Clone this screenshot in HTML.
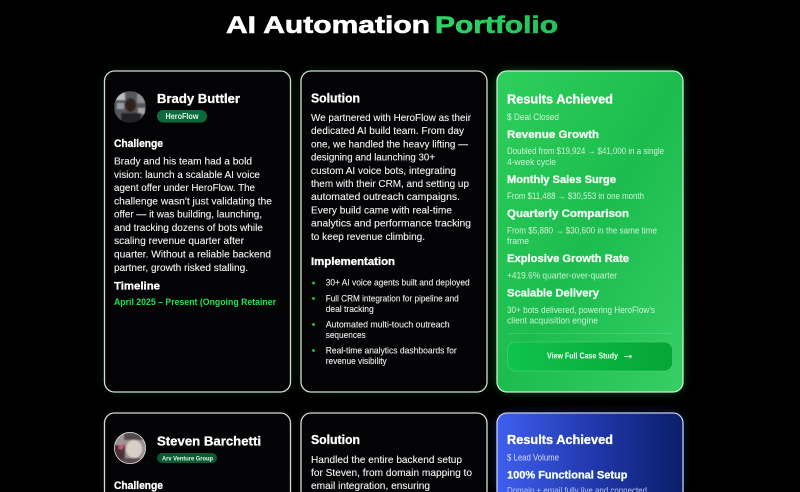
<!DOCTYPE html>
<html><head><meta charset="utf-8"><style>
html,body{margin:0;padding:0;background:#000;width:800px;height:492px;overflow:hidden}
body{position:relative}
svg{display:block}
.root{filter:blur(.3px)}
text{font-family:"Liberation Sans",sans-serif;white-space:pre}
.h{font-weight:700;fill:#fff;stroke:#fff;stroke-width:.3}
.b{font-size:10.5px;fill:#f1f1f1;stroke:#f1f1f1;stroke-width:.12}
.i{font-size:8.9px;fill:#eee;stroke:#eee;stroke-width:.1}
.s{font-size:9px;fill:#cdf3d7}
.g{font-size:11px;font-weight:700;fill:#f4fff6;stroke:#f4fff6;stroke-width:.3}
#cut{position:absolute;left:0;top:486px;width:800px;height:6px;overflow:hidden}
</style></head><body>
<svg class="root" width="800" height="492" viewBox="0 0 800 492" xmlns="http://www.w3.org/2000/svg">
<defs>
<filter id="gl" x="-20%" y="-20%" width="140%" height="140%"><feGaussianBlur stdDeviation="5"/></filter>
<filter id="bl" x="-20%" y="-20%" width="140%" height="140%"><feGaussianBlur stdDeviation=".9"/></filter>
<linearGradient id="gr" x1="0" y1="0" x2="1" y2="1"><stop offset="0" stop-color="#2fcf5c"/><stop offset=".5" stop-color="#1cbc4e"/><stop offset="1" stop-color="#36cf66"/></linearGradient>
<linearGradient id="bt" x1="0" y1="0" x2="1" y2="0"><stop offset="0" stop-color="#10c34a"/><stop offset="1" stop-color="#05a536"/></linearGradient>
<linearGradient id="bu" x1="0" y1="0" x2="1" y2="0"><stop offset="0" stop-color="#3f5ff0"/><stop offset=".55" stop-color="#1f36a8"/><stop offset="1" stop-color="#0a1e68"/></linearGradient>
<linearGradient id="tt" x1="0" y1="0" x2="1" y2="0"><stop offset="0" stop-color="#2fd565"/><stop offset="1" stop-color="#22c25a"/></linearGradient>
<clipPath id="a1"><circle cx="130" cy="107" r="16"/></clipPath>
<clipPath id="a2"><circle cx="130" cy="448" r="16"/></clipPath>
</defs>
<rect width="800" height="492" fill="#000"/>

<!-- glows -->
<rect x="104" y="71" width="186" height="321" rx="11" fill="#0d3a18" opacity=".55" filter="url(#gl)"/>
<rect x="301" y="71" width="186" height="321" rx="11" fill="#0d3a18" opacity=".55" filter="url(#gl)"/>
<rect x="497" y="71" width="186" height="321" rx="11" fill="#1f8a40" opacity=".6" filter="url(#gl)"/>
<rect x="104" y="413" width="186" height="79" rx="11" fill="#1a1a22" opacity=".5" filter="url(#gl)"/>
<rect x="301" y="413" width="186" height="79" rx="11" fill="#1a1a22" opacity=".5" filter="url(#gl)"/>
<rect x="497" y="413" width="186" height="79" rx="11" fill="#22307a" opacity=".6" filter="url(#gl)"/>

<!-- title -->
<text x="226" y="33" font-size="24" font-weight="700" fill="#fff" stroke="#fff" stroke-width=".6" textLength="204" lengthAdjust="spacingAndGlyphs">AI Automation</text>
<text x="435" y="33" font-size="24" font-weight="700" fill="url(#tt)" stroke="url(#tt)" stroke-width=".6" textLength="123" lengthAdjust="spacingAndGlyphs">Portfolio</text>

<!-- cards row 1 -->
<rect x="104.5" y="71" width="186" height="321" rx="10" fill="#030305" stroke="#d5dcd5" stroke-width="1.3"/>
<rect x="301" y="71" width="186" height="321" rx="10" fill="#030305" stroke="#d5dcd5" stroke-width="1.3"/>
<rect x="497" y="71" width="186" height="321" rx="10" fill="url(#gr)" stroke="#c9efd2" stroke-width="1.3"/>
<!-- cards row 2 (cut by the frame) -->
<path d="M104.5 492V423a10 10 0 0 1 10-10H280.5a10 10 0 0 1 10 10V492" fill="#030305" stroke="#d5dcd5" stroke-width="1.3"/>
<path d="M301 492V423a10 10 0 0 1 10-10H477a10 10 0 0 1 10 10V492" fill="#030305" stroke="#d5dcd5" stroke-width="1.3"/>
<path d="M497 492V423a10 10 0 0 1 10-10H673a10 10 0 0 1 10 10V492" fill="url(#bu)" stroke="#c8cff0" stroke-width="1.3"/>

<!-- avatar 1 -->
<g clip-path="url(#a1)"><g filter="url(#bl)">
<rect x="114" y="91" width="32" height="32" fill="#55565a"/>
<rect x="116" y="93" width="9" height="7" fill="#b9bdc0"/>
<rect x="117" y="103" width="7" height="6" fill="#9a9ea2"/>
<rect x="137" y="94" width="8" height="9" fill="#8d8f92"/>
<rect x="138" y="108" width="7" height="6" fill="#a5a7aa"/>
<ellipse cx="130.5" cy="105" rx="5.5" ry="7" fill="#33241f"/>
<rect x="121" y="113" width="20" height="10" fill="#232327"/>
</g></g>
<!-- avatar 2 -->
<g clip-path="url(#a2)"><g filter="url(#bl)">
<rect x="114" y="432" width="32" height="32" fill="#9c9494"/>
<rect x="114" y="445" width="11" height="19" fill="#4a3038"/>
<circle cx="121" cy="447" r="2.5" fill="#d8557f"/>
<ellipse cx="134" cy="449" rx="8" ry="9" fill="#d8cfc6"/>
<rect x="124" y="433" width="20" height="7" fill="#55464a"/>
<rect x="122" y="458" width="22" height="6" fill="#5a4a4e"/>
</g></g>
<circle cx="130" cy="448" r="15.6" fill="none" stroke="#d8d8d8" stroke-width=".8"/>

<!-- card 1 text -->
<text class="h" x="157" y="103" font-size="13" textLength="83" lengthAdjust="spacingAndGlyphs">Brady Buttler</text>
<rect x="157" y="110" width="50" height="12.5" rx="6" fill="#0c6b3a"/>
<text x="165.5" y="119" font-size="8" font-weight="700" textLength="33" lengthAdjust="spacingAndGlyphs" fill="#dff5e6">HeroFlow</text>
<text class="h" x="114" y="147" font-size="11" textLength="49" lengthAdjust="spacingAndGlyphs">Challenge</text>
<text class="b" x="114" y="164.5" textLength="138" lengthAdjust="spacingAndGlyphs">Brady and his team had a bold</text>
<text class="b" x="114" y="177.8" textLength="146" lengthAdjust="spacingAndGlyphs">vision: launch a scalable AI voice</text>
<text class="b" x="114" y="191" textLength="141" lengthAdjust="spacingAndGlyphs">agent offer under HeroFlow. The</text>
<text class="b" x="114" y="204.3" textLength="158" lengthAdjust="spacingAndGlyphs">challenge wasn't just validating the</text>
<text class="b" x="114" y="217.6" textLength="148" lengthAdjust="spacingAndGlyphs">offer — it was building, launching,</text>
<text class="b" x="114" y="230.9" textLength="149" lengthAdjust="spacingAndGlyphs">and tracking dozens of bots while</text>
<text class="b" x="114" y="244.2" textLength="130" lengthAdjust="spacingAndGlyphs">scaling revenue quarter after</text>
<text class="b" x="114" y="257.5" textLength="157" lengthAdjust="spacingAndGlyphs">quarter. Without a reliable backend</text>
<text class="b" x="114" y="270.8" textLength="134" lengthAdjust="spacingAndGlyphs">partner, growth risked stalling.</text>
<text class="h" x="114" y="289.5" font-size="11" textLength="46" lengthAdjust="spacingAndGlyphs">Timeline</text>
<text x="114" y="305" font-size="9" font-weight="700" fill="#22e352" textLength="162" lengthAdjust="spacingAndGlyphs">April 2025 – Present (Ongoing Retainer</text>

<!-- card 2 text -->
<text class="h" x="311" y="102.5" font-size="13" textLength="49" lengthAdjust="spacingAndGlyphs">Solution</text>
<text class="b" x="311" y="121" textLength="160" lengthAdjust="spacingAndGlyphs">We partnered with HeroFlow as their</text>
<text class="b" x="311" y="134.2" textLength="153" lengthAdjust="spacingAndGlyphs">dedicated AI build team. From day</text>
<text class="b" x="311" y="147.4" textLength="157" lengthAdjust="spacingAndGlyphs">one, we handled the heavy lifting —</text>
<text class="b" x="311" y="160.6" textLength="124" lengthAdjust="spacingAndGlyphs">designing and launching 30+</text>
<text class="b" x="311" y="173.8" textLength="145" lengthAdjust="spacingAndGlyphs">custom AI voice bots, integrating</text>
<text class="b" x="311" y="187" textLength="158" lengthAdjust="spacingAndGlyphs">them with their CRM, and setting up</text>
<text class="b" x="311" y="200.2" textLength="149" lengthAdjust="spacingAndGlyphs">automated outreach campaigns.</text>
<text class="b" x="311" y="213.4" textLength="141" lengthAdjust="spacingAndGlyphs">Every build came with real-time</text>
<text class="b" x="311" y="226.6" textLength="160" lengthAdjust="spacingAndGlyphs">analytics and performance tracking</text>
<text class="b" x="311" y="239.8" textLength="114" lengthAdjust="spacingAndGlyphs">to keep revenue climbing.</text>
<text class="h" x="311" y="265" font-size="11" textLength="84" lengthAdjust="spacingAndGlyphs">Implementation</text>
<g fill="#22e352"><rect x="312.3" y="281.8" width="2.4" height="2.4"/><rect x="312.3" y="297.3" width="2.4" height="2.4"/><rect x="312.3" y="323.3" width="2.4" height="2.4"/><rect x="312.3" y="349.3" width="2.4" height="2.4"/></g>
<text class="i" x="325.7" y="285.7" textLength="144" lengthAdjust="spacingAndGlyphs">30+ AI voice agents built and deployed</text>
<text class="i" x="325.7" y="301.7" textLength="133" lengthAdjust="spacingAndGlyphs">Full CRM integration for pipeline and</text>
<text class="i" x="325.7" y="312" textLength="48" lengthAdjust="spacingAndGlyphs">deal tracking</text>
<text class="i" x="325.7" y="327.7" textLength="124" lengthAdjust="spacingAndGlyphs">Automated multi-touch outreach</text>
<text class="i" x="325.7" y="338" textLength="40" lengthAdjust="spacingAndGlyphs">sequences</text>
<text class="i" x="325.7" y="353.7" textLength="131" lengthAdjust="spacingAndGlyphs">Real-time analytics dashboards for</text>
<text class="i" x="325.7" y="364" textLength="61" lengthAdjust="spacingAndGlyphs">revenue visibility</text>

<!-- card 3 text -->
<text class="h" x="507" y="103.3" font-size="13" textLength="106" lengthAdjust="spacingAndGlyphs">Results Achieved</text>
<text class="s" x="507" y="120" textLength="52" lengthAdjust="spacingAndGlyphs">$ Deal Closed</text>
<text class="g" x="507" y="138" textLength="92" lengthAdjust="spacingAndGlyphs">Revenue Growth</text>
<text class="s" x="507" y="154" textLength="157" lengthAdjust="spacingAndGlyphs">Doubled from $19,924 → $41,000 in a single</text>
<text class="s" x="507" y="165" textLength="49" lengthAdjust="spacingAndGlyphs">4-week cycle</text>
<text class="g" x="507" y="183" textLength="109" lengthAdjust="spacingAndGlyphs">Monthly Sales Surge</text>
<text class="s" x="507" y="199" textLength="137" lengthAdjust="spacingAndGlyphs">From $11,488 → $30,553 in one month</text>
<text class="g" x="507" y="217" textLength="122" lengthAdjust="spacingAndGlyphs">Quarterly Comparison</text>
<text class="s" x="507" y="233.5" textLength="150" lengthAdjust="spacingAndGlyphs">From $5,880 → $30,600 in the same time</text>
<text class="s" x="507" y="244" textLength="22" lengthAdjust="spacingAndGlyphs">frame</text>
<text class="g" x="507" y="262" textLength="122" lengthAdjust="spacingAndGlyphs">Explosive Growth Rate</text>
<text class="s" x="507" y="278.5" textLength="110" lengthAdjust="spacingAndGlyphs">+419.6% quarter-over-quarter</text>
<text class="g" x="507" y="296.5" textLength="92" lengthAdjust="spacingAndGlyphs">Scalable Delivery</text>
<text class="s" x="507" y="313" textLength="148" lengthAdjust="spacingAndGlyphs">30+ bots delivered, powering HeroFlow's</text>
<text class="s" x="507" y="323.7" textLength="91" lengthAdjust="spacingAndGlyphs">client acquisition engine</text>
<line x1="507" y1="333.5" x2="673" y2="333.5" stroke="#fff" stroke-opacity=".18" stroke-width=".8"/>
<rect x="507.5" y="342" width="165" height="29" rx="8" fill="url(#bt)" stroke="#5fdc85" stroke-opacity=".6" stroke-width=".8"/>
<text x="547" y="358.7" font-size="7.8" font-weight="700" fill="#f2fff5" textLength="71" lengthAdjust="spacingAndGlyphs">View Full Case Study</text>
<path d="M624 356.5h7.5M629.5 354.7l2 1.8-2 1.8" fill="none" stroke="#f2fff5" stroke-width=".8"/>

<!-- row 2 text -->
<text class="h" x="157" y="445.5" font-size="13" textLength="104" lengthAdjust="spacingAndGlyphs">Steven Barchetti</text>
<rect x="157" y="453" width="60" height="10" rx="5" fill="#0b5a32"/>
<text x="162" y="460.5" font-size="6.6" font-weight="700" fill="#dff5e6" textLength="51" lengthAdjust="spacingAndGlyphs">Arv Venture Group</text>
<text class="h" x="114" y="489" font-size="11" textLength="49" lengthAdjust="spacingAndGlyphs">Challenge</text>

<text class="h" x="311" y="444" font-size="13" textLength="49" lengthAdjust="spacingAndGlyphs">Solution</text>
<text class="b" x="311" y="463" textLength="151" lengthAdjust="spacingAndGlyphs">Handled the entire backend setup</text>
<text class="b" x="311" y="476" textLength="161" lengthAdjust="spacingAndGlyphs">for Steven, from domain mapping to</text>
<text class="b" x="311" y="489" textLength="119" lengthAdjust="spacingAndGlyphs">email integration, ensuring</text>

<text class="h" x="507" y="444" font-size="13" textLength="106" lengthAdjust="spacingAndGlyphs">Results Achieved</text>
<text x="507" y="460.7" font-size="9" fill="#d5dcfa" textLength="52" lengthAdjust="spacingAndGlyphs">$ Lead Volume</text>
<text class="g" x="507" y="478.7" textLength="120.5" lengthAdjust="spacingAndGlyphs">100% Functional Setup</text>
</svg>
<div id="cut"><svg width="800" height="6" viewBox="0 486 800 6" xmlns="http://www.w3.org/2000/svg"><text x="507" y="493.5" font-size="9" fill="#b9c4f5" textLength="140" lengthAdjust="spacingAndGlyphs">Domain + email fully live and connected</text></svg></div>
</body></html>
